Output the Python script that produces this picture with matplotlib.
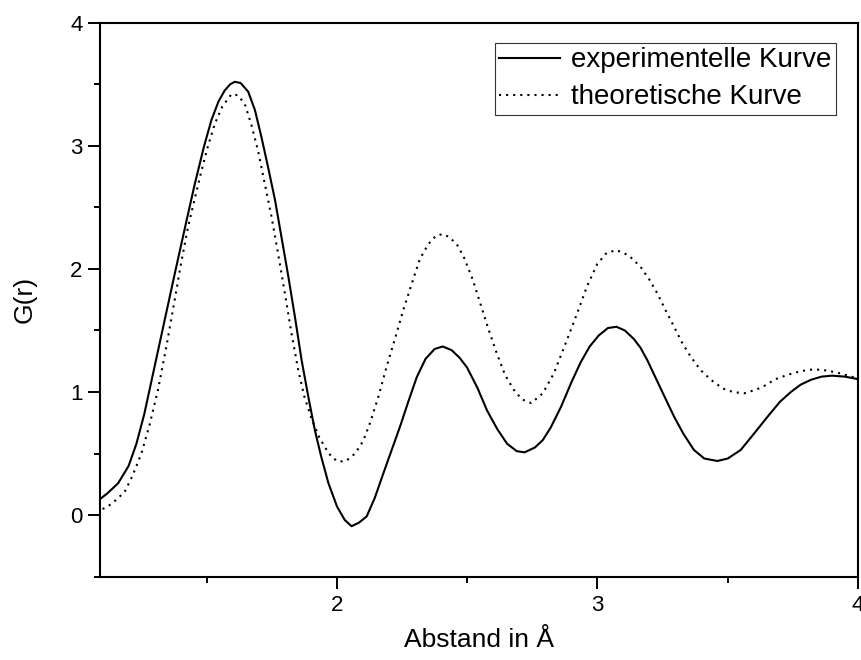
import matplotlib
matplotlib.use('Agg')
import matplotlib.pyplot as plt
from matplotlib.ticker import MultipleLocator

plt.rcParams['font.family'] = ['Liberation Sans', 'DejaVu Sans']

# Abstand r in Angstrom und G(r)
r_exp = [1.09, 1.12, 1.16, 1.20, 1.23, 1.26, 1.30, 1.34, 1.377, 1.42,
         1.454, 1.49, 1.518, 1.545, 1.569, 1.59, 1.608, 1.63, 1.659, 1.685,
         1.71, 1.735, 1.762, 1.79, 1.813, 1.84, 1.864, 1.89, 1.915, 1.94,
         1.967, 2.00, 2.03, 2.056, 2.085, 2.114, 2.145, 2.178, 2.21, 2.242,
         2.275, 2.306, 2.34, 2.375, 2.406, 2.44, 2.47, 2.499, 2.54, 2.576,
         2.615, 2.653, 2.69, 2.72, 2.76, 2.79, 2.82, 2.86, 2.90, 2.935,
         2.97, 3.005, 3.04, 3.073, 3.105, 3.14, 3.165, 3.191, 3.24, 3.294,
         3.33, 3.37, 3.41, 3.46, 3.50, 3.55, 3.60, 3.653, 3.70, 3.742,
         3.78, 3.82, 3.86, 3.90, 3.95, 4.0]
g_exp = [0.13, 0.18, 0.26, 0.40, 0.58, 0.82, 1.21, 1.60, 1.96, 2.37,
         2.69, 3.00, 3.21, 3.36, 3.45, 3.50, 3.52, 3.51, 3.44, 3.29,
         3.07, 2.83, 2.56, 2.22, 1.94, 1.59, 1.26, 0.96, 0.69, 0.47,
         0.26, 0.07, -0.04, -0.09, -0.06, -0.01, 0.14, 0.34, 0.53, 0.72,
         0.93, 1.12, 1.27, 1.35, 1.37, 1.34, 1.28, 1.20, 1.03, 0.85,
         0.70, 0.58, 0.52, 0.51, 0.55, 0.61, 0.71, 0.88, 1.08, 1.24,
         1.37, 1.46, 1.52, 1.53, 1.50, 1.43, 1.36, 1.26, 1.04, 0.80,
         0.66, 0.53, 0.46, 0.44, 0.46, 0.53, 0.66, 0.80, 0.92, 1.00,
         1.06, 1.10, 1.125, 1.133, 1.125, 1.105]

r_theo = [1.10, 1.12, 1.15, 1.185, 1.215, 1.249, 1.28, 1.313, 1.345, 1.377,
          1.40, 1.428, 1.455, 1.48, 1.505, 1.531, 1.56, 1.595, 1.62, 1.646,
          1.67, 1.697, 1.72, 1.749, 1.775, 1.80, 1.825, 1.851, 1.875, 1.903,
          1.93, 1.954, 1.98, 2.005, 2.035, 2.069, 2.10, 2.127, 2.16, 2.191,
          2.225, 2.255, 2.29, 2.318, 2.35, 2.38, 2.406, 2.43, 2.46, 2.486,
          2.52, 2.55, 2.58, 2.614, 2.645, 2.678, 2.71, 2.746, 2.79, 2.832,
          2.875, 2.922, 2.96, 2.999, 3.035, 3.073, 3.12, 3.165, 3.20, 3.23,
          3.26, 3.294, 3.325, 3.357, 3.395, 3.435, 3.48, 3.52, 3.563, 3.61,
          3.65, 3.678, 3.73, 3.781, 3.832, 3.88, 3.935, 4.0]
g_theo = [0.05, 0.07, 0.12, 0.19, 0.32, 0.50, 0.73, 1.02, 1.37, 1.75,
          2.03, 2.34, 2.58, 2.80, 3.00, 3.18, 3.32, 3.42, 3.41, 3.34,
          3.18, 2.96, 2.72, 2.42, 2.11, 1.80, 1.48, 1.18, 0.96, 0.78,
          0.64, 0.55, 0.47, 0.435, 0.44, 0.50, 0.60, 0.75, 0.97, 1.21,
          1.45, 1.67, 1.90, 2.08, 2.20, 2.27, 2.283, 2.26, 2.20, 2.10,
          1.92, 1.72, 1.52, 1.31, 1.14, 1.02, 0.94, 0.91, 0.99, 1.15,
          1.38, 1.64, 1.86, 2.04, 2.13, 2.153, 2.11, 2.018, 1.91, 1.80,
          1.67, 1.53, 1.40, 1.29, 1.18, 1.10, 1.03, 1.00, 0.99, 1.02,
          1.06, 1.10, 1.14, 1.17, 1.185, 1.175, 1.15, 1.11]

fig = plt.figure(figsize=(8.61, 6.6), dpi=100)
ax = fig.add_axes([0.1161, 0.1262, 0.8804, 0.8394])

ax.plot(r_exp, g_exp, color='black', lw=1.5, label='experimentelle Kurve')
ax.plot(r_theo, g_theo, color='black', lw=1.5, linestyle=(0, (1, 2.4)),
        label='theoretische Kurve')

ax.set_xlim(1.09, 4.0)
ax.set_ylim(-0.5, 4.0)
ax.xaxis.set_major_locator(MultipleLocator(1))
ax.xaxis.set_minor_locator(MultipleLocator(0.5))
ax.yaxis.set_major_locator(MultipleLocator(1))
ax.yaxis.set_minor_locator(MultipleLocator(0.5))
ax.tick_params(which='major', direction='out', length=8.5, width=1.4, labelsize=16)
ax.tick_params(which='minor', direction='out', length=4.5, width=1.4)
ax.tick_params(axis='x', which='major', pad=5)
ax.tick_params(axis='y', which='major', pad=4)
for s in ax.spines.values():
    s.set_linewidth(1.5)

ax.set_xlabel('Abstand in Å', fontsize=19, labelpad=8)
ax.set_ylabel('G(r)', fontsize=19, labelpad=24)

leg = ax.legend(loc='upper right', bbox_to_anchor=(0.971, 0.963), fontsize=20,
                frameon=True, fancybox=False, edgecolor='black', handlelength=2.2,
                handletextpad=0.4, borderpad=0.15, labelspacing=0.4,
                borderaxespad=0)
leg.get_frame().set_linewidth(0.8)

plt.savefig('out.png', dpi=100)
